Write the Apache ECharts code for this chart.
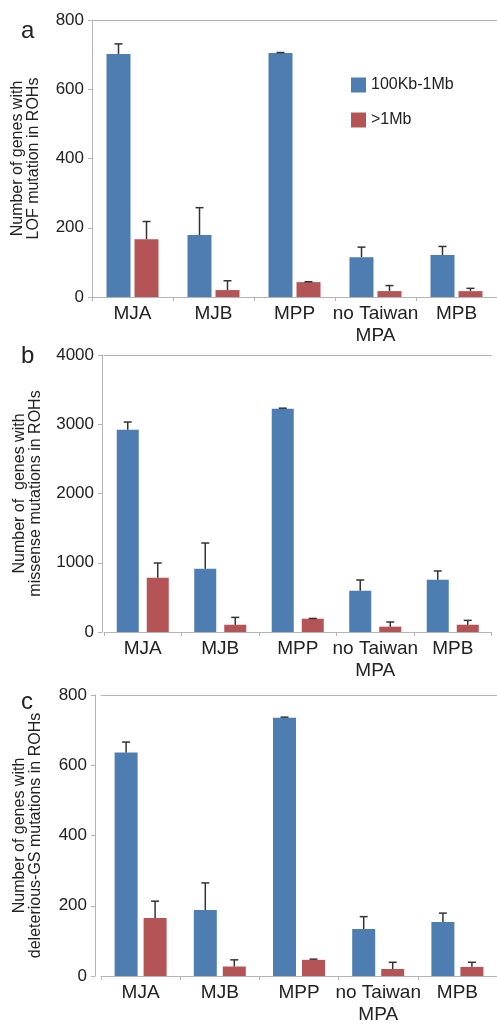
<!DOCTYPE html>
<html>
<head>
<meta charset="utf-8">
<script src="https://cdn.jsdelivr.net/npm/echarts@6/dist/echarts.min.js"></script>
<style>
  html, body { margin: 0; padding: 0; background: #fff; }
  #chart { width: 497px; height: 1027px; }
</style>
</head>
<body>
<div id="chart"></div>
<script>
const categories = ["MJA", "MJB", "MPP", "no Taiwan\nMPA", "MPB"];
const seriesNames = ["100Kb-1Mb", ">1Mb"];

// a: LOF mutations
const lofShort = [702, 179, 705, 115, 121];
const lofShortErr = [731, 258, 706, 144, 146];
const lofLong = [167, 20, 43, 17, 17];
const lofLongErr = [218, 47, 44, 33, 25];

// b: missense mutations
const misShort = [2921, 914, 3225, 596, 755];
const misShortErr = [3032, 1285, 3232, 751, 881];
const misLong = [784, 105, 192, 77, 105];
const misLongErr = [996, 211, 196, 144, 168];

// c: deleterious-GS mutations
const delShort = [636, 188, 735, 134, 154];
const delShortErr = [666, 265, 737, 169, 179];
const delLong = [165, 27, 46, 20, 26];
const delLongErr = [213, 46, 48, 39, 39];

const yMaxes = [800, 4000, 800];
const yIntervals = [200, 1000, 200];
const yNames = [
  "Number of genes with\nLOF mutation in ROHs",
  "Number of  genes with\nmissense mutations in ROHs",
  "Number of genes with\ndeleterious-GS mutations in ROHs"
];
const letters = ["a", "b", "c"];

const panels = [
  { short: lofShort, shortErr: lofShortErr, long: lofLong, longErr: lofLongErr,
    grid: { left: 92, width: 411, top: 20, height: 277 }, offset: 0, nameGap: 50,
    barW: 24, gap: 4, letterTop: 14 },
  { short: misShort, shortErr: misShortErr, long: misLong, longErr: misLongErr,
    grid: { left: 104, width: 387.5, top: 355, height: 277 }, offset: 2, nameGap: 58,
    barW: 22, gap: 8, letterTop: 339 },
  { short: delShort, shortErr: delShortErr, long: delLong, longErr: delLongErr,
    grid: { left: 101, width: 400, top: 695, height: 281 }, offset: 6, nameGap: 51,
    barW: 23, gap: 6, letterTop: 685 }
];

const blue = "#4e7db1";
const red = "#b55457";
const axisGray = "#b4b4b4";
const textColor = "#222";
const font = "Liberation Sans";

const chart = echarts.init(document.getElementById("chart"));

const grids = [], xAxes = [], yAxes = [], series = [], titles = [];

function errorBars(i, vals, errs, shift) {
  return {
    type: "custom",
    xAxisIndex: i * 2,
    yAxisIndex: i,
    silent: true,
    z: 5,
    encode: { x: 0, y: 1 },
    renderItem(params, api) {
      const base = api.coord([api.value(0), api.value(1)]);
      const top = api.coord([api.value(0), api.value(2)]);
      const x = base[0] + shift;
      const st = { stroke: "#333", lineWidth: 1.5 };
      return {
        type: "group",
        children: [
          { type: "line", shape: { x1: x, y1: base[1], x2: x, y2: top[1] }, style: st },
          { type: "line", shape: { x1: x - 4, y1: top[1], x2: x + 4, y2: top[1] }, style: st }
        ]
      };
    },
    data: vals.map((v, k) => [k, v, errs[k]])
  };
}

panels.forEach((p, i) => {
  grids.push(Object.assign({ containLabel: false }, p.grid));
  xAxes.push({
    type: "category",
    gridIndex: i,
    data: categories,
    axisLine: { lineStyle: { color: axisGray, width: 1 } },
    axisTick: { show: true, length: 4, lineStyle: { color: axisGray } },
    axisLabel: { interval: 0, margin: 6, fontSize: 19, lineHeight: 22, color: textColor, fontFamily: font },
    splitLine: { show: false }
  });
  // top border line
  xAxes.push({
    type: "category",
    gridIndex: i,
    position: "top",
    data: categories,
    axisLine: { lineStyle: { color: axisGray, width: 1 } },
    axisTick: { show: false },
    axisLabel: { show: false }
  });
  yAxes.push({
    type: "value",
    gridIndex: i,
    min: 0,
    max: yMaxes[i],
    interval: yIntervals[i],
    offset: p.offset,
    name: yNames[i],
    nameLocation: "middle",
    nameRotate: 90,
    nameGap: p.nameGap,
    nameTextStyle: { fontSize: 16, lineHeight: 16, color: textColor, fontFamily: font },
    axisLine: { show: true, lineStyle: { color: axisGray, width: 1 } },
    axisTick: { show: true, length: 4, lineStyle: { color: axisGray } },
    axisLabel: { margin: 8, fontSize: 17, color: textColor, fontFamily: font, formatter: v => String(v) },
    splitLine: { show: false }
  });
  const gapPct = (p.gap / p.barW * 100).toFixed(1) + "%";
  series.push({
    type: "bar", name: seriesNames[0], xAxisIndex: i * 2, yAxisIndex: i,
    data: p.short, barWidth: p.barW, barGap: gapPct, itemStyle: { color: blue }
  });
  series.push({
    type: "bar", name: seriesNames[1], xAxisIndex: i * 2, yAxisIndex: i,
    data: p.long, barWidth: p.barW, barGap: gapPct, itemStyle: { color: red }
  });
  const shift = (p.barW + p.gap) / 2;
  series.push(errorBars(i, p.short, p.shortErr, -shift));
  series.push(errorBars(i, p.long, p.longErr, shift));
  titles.push({
    text: letters[i], left: 16, top: p.letterTop,
    textStyle: { fontSize: 24, fontWeight: "normal", color: textColor, fontFamily: font }
  });
});

chart.setOption({
  animation: false,
  title: titles,
  legend: {
    data: seriesNames,
    orient: "vertical",
    left: 346,
    top: 72,
    icon: "rect",
    itemWidth: 15,
    itemHeight: 15,
    itemGap: 19,
    textStyle: { fontSize: 16, color: textColor, fontFamily: font }
  },
  grid: grids,
  xAxis: xAxes,
  yAxis: yAxes,
  series: series
});
</script>
</body>
</html>
